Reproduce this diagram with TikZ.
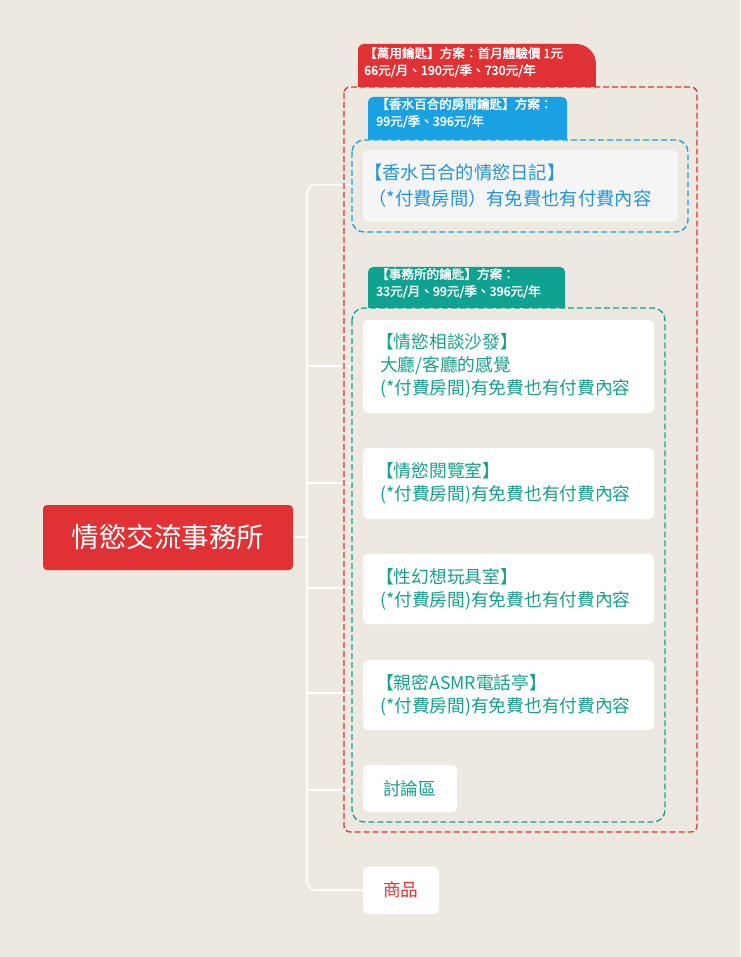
\documentclass[tikz,border=0pt]{standalone}
\usepackage{fontspec}
\setmainfont{Noto Sans CJK TC}
\newfontfamily\boldcjk[FakeBold=2]{Noto Sans CJK TC}
\begin{document}
\begin{tikzpicture}[x=1pt,y=-1pt,
  lbl/.style={anchor=north west,inner sep=0pt,align=left,font=\boldcjk\fontsize{12.6}{17}\selectfont,text=white},
  card/.style={fill=white,rounded corners=5pt,draw=none},
  ctext/.style={anchor=west,align=left,inner sep=0pt,font=\fontsize{17.7}{23}\selectfont},
  dsh/.style={dash pattern=on 6pt off 3pt,line width=1.3pt},
  conn/.style={draw=white,line width=1.5pt}]
\definecolor{bg}{HTML}{EDE9E0}
\definecolor{rd}{HTML}{E03134}
\definecolor{bl}{HTML}{1AA1E4}
\definecolor{tl}{HTML}{10A291}
\definecolor{btxt}{HTML}{2396D4}
\definecolor{ttxt}{HTML}{17A08C}
\fill[bg] (0,0) rectangle (740,957);
\useasboundingbox (0,0) rectangle (740,957);
% connectors
\coordinate (t0) at (307,185);
\coordinate (t1) at (307,890);
\draw[conn] (293,537) -- (307,537);
\draw[conn,rounded corners=8pt] (363,185) -- (t0) -- (t1) -- (363,890);
\foreach \y in {366,483,588,693,790} \draw[conn] (307,\y) -- (363,\y);
% root
\node[fill=rd,rounded corners=4pt,minimum width=250pt,minimum height=65pt,text=white,font=\fontsize{27.5}{32}\selectfont] (root) at (168,537.5) {情慾交流事務所};
% red group
\fill[rd,rounded corners=6pt] (358,44) rectangle (560,87);
\fill[rd,rounded corners=20pt] (500,44) rectangle (596,87);
\fill[rd] (358,70) rectangle (596,87);
\node[lbl] (rl) at (364,47) {【萬用鑰匙】方案：首月體驗價 1元\\66元/月、190元/季、730元/年};
\draw[rd,dsh,rounded corners=6pt] (344,87) rectangle (697,832);
% blue group
\fill[bl,rounded corners=5pt] (368,97) rectangle (567,146);
\node[lbl] (bll) at (376,98) {【香水百合的房間鑰匙】方案：\\99元/季、396元/年};
\draw[bl,dsh,rounded corners=12pt,fill=bg] (352,140) rectangle (688,232);
\fill[white!96!black,rounded corners=5pt] (363,150) rectangle (678,222);
\node[ctext,text=btxt,font=\fontsize{18.3}{26}\selectfont] (n0) at (364,186) {【香水百合的情慾日記】\\\ （*付費房間）有免費也有付費內容};
% teal group
\fill[tl,rounded corners=5pt] (368,267) rectangle (565,314);
\node[lbl] (tll) at (376,268) {【事務所的鑰匙】方案：\\33元/月、99元/季、396元/年};
\draw[tl,dsh,rounded corners=12pt,fill=bg] (352,308) rectangle (665,822);
\fill[card] (363,320) rectangle (654,413);
\node[ctext,text=ttxt] (n1) at (376,366) {【情慾相談沙發】\\\ 大廳/客廳的感覺\\\ (*付費房間)有免費也有付費內容};
\fill[card] (363,448) rectangle (654,519);
\node[ctext,text=ttxt] (n2) at (376,483) {【情慾閱覽室】\\\ (*付費房間)有免費也有付費內容};
\fill[card] (363,554) rectangle (654,624);
\node[ctext,text=ttxt] (n3) at (376,589) {【性幻想玩具室】\\\ (*付費房間)有免費也有付費內容};
\fill[card] (363,660) rectangle (654,730);
\node[ctext,text=ttxt] (n4) at (376,695) {【親密ASMR電話亭】\\\ (*付費房間)有免費也有付費內容};
\fill[card] (363,765) rectangle (457,812);
\node[ctext,text=ttxt] (n5) at (383,789) {討論區};
\fill[card] (363,867) rectangle (439,914);
\node[ctext,text=rd] (n6) at (383,890) {商品};
\end{tikzpicture}
\end{document}
